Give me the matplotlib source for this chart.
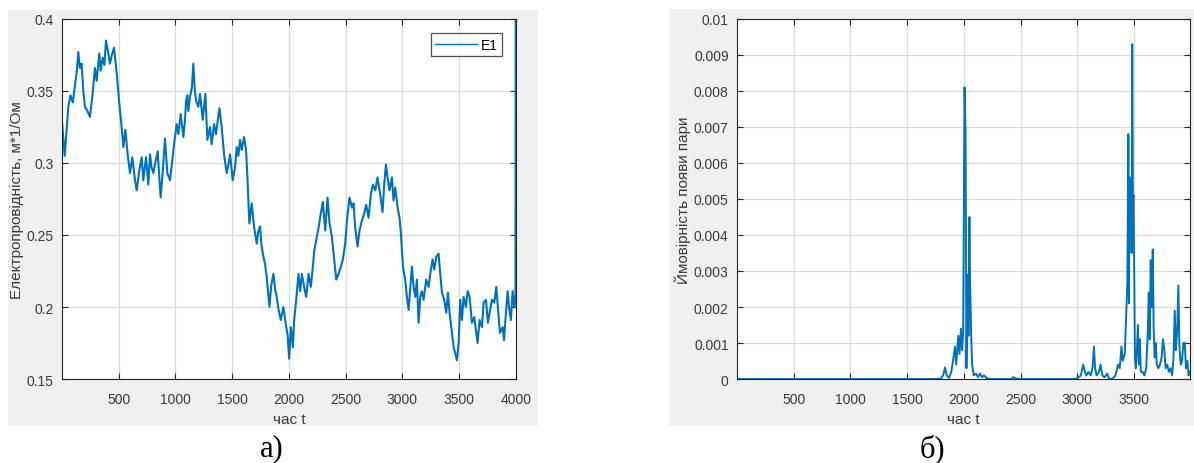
import matplotlib.pyplot as plt
from matplotlib.patches import Rectangle

# values
e1_t = [0, 24, 40, 56, 76, 95, 115, 130, 144, 158, 173, 188, 203, 225, 247, 260, 270, 291, 306,
        329, 341, 359, 374, 388, 409, 423, 440, 459, 482, 506, 526, 541, 559, 579, 600, 620,
        644, 659, 682, 703, 717, 741, 761, 776, 790, 806, 825, 844, 858, 870, 894, 908, 929,
        953, 976, 988, 1011, 1026, 1047, 1070, 1085, 1094, 1105, 1114, 1129, 1145, 1158, 1170,
        1182, 1202, 1217, 1241, 1264, 1282, 1305, 1320, 1341, 1358, 1375, 1388, 1408, 1429,
        1452, 1470, 1482, 1505, 1526, 1541, 1555, 1570, 1585, 1605, 1623, 1635, 1646, 1652,
        1673, 1693, 1717, 1730, 1746, 1760, 1776, 1790, 1805, 1829, 1845, 1864, 1880, 1893,
        1910, 1929, 1952, 1970, 1982, 1990, 2003, 2018, 2036, 2047, 2065, 2085, 2100, 2115,
        2135, 2153, 2174, 2194, 2212, 2224, 2241, 2262, 2282, 2300, 2321, 2341, 2359, 2379,
        2400, 2418, 2438, 2459, 2476, 2497, 2512, 2535, 2556, 2571, 2585, 2606, 2623, 2644,
        2665, 2682, 2703, 2723, 2741, 2762, 2782, 2806, 2826, 2841, 2856, 2870, 2888, 2909,
        2923, 2938, 2959, 2976, 2988, 3006, 3026, 3041, 3056, 3071, 3085, 3100, 3115, 3129,
        3144, 3159, 3173, 3188, 3211, 3232, 3247, 3267, 3282, 3300, 3320, 3335, 3350, 3370,
        3388, 3403, 3417, 3438, 3453, 3467, 3482, 3497, 3511, 3526, 3541, 3561, 3576, 3594,
        3614, 3635, 3653, 3664, 3682, 3703, 3717, 3738, 3755, 3770, 3791, 3811, 3829, 3847,
        3861, 3885, 3897, 3914, 3929, 3944, 3958, 3973, 3988, 3998, 4000]
e1_v = [0.329, 0.305, 0.322, 0.339, 0.347, 0.342, 0.354, 0.363, 0.377, 0.366, 0.369, 0.350, 0.339,
        0.336, 0.332, 0.341, 0.348, 0.366, 0.357, 0.376, 0.364, 0.373, 0.368, 0.385, 0.376,
        0.369, 0.375, 0.380, 0.363, 0.341, 0.325, 0.311, 0.323, 0.306, 0.293, 0.304, 0.288,
        0.281, 0.295, 0.304, 0.288, 0.304, 0.285, 0.306, 0.297, 0.293, 0.301, 0.308, 0.290,
        0.276, 0.300, 0.317, 0.293, 0.288, 0.304, 0.313, 0.327, 0.320, 0.334, 0.318, 0.330,
        0.343, 0.347, 0.336, 0.346, 0.352, 0.369, 0.352, 0.343, 0.339, 0.348, 0.330, 0.348,
        0.316, 0.325, 0.313, 0.327, 0.320, 0.330, 0.338, 0.325, 0.306, 0.293, 0.300, 0.306,
        0.288, 0.297, 0.311, 0.305, 0.316, 0.309, 0.318, 0.309, 0.290, 0.269, 0.258, 0.272,
        0.256, 0.244, 0.252, 0.256, 0.242, 0.235, 0.230, 0.221, 0.200, 0.215, 0.223, 0.212,
        0.207, 0.198, 0.191, 0.200, 0.190, 0.184, 0.180, 0.164, 0.186, 0.172, 0.191, 0.205,
        0.223, 0.211, 0.223, 0.214, 0.207, 0.223, 0.214, 0.228, 0.239, 0.246, 0.255, 0.265,
        0.273, 0.253, 0.276, 0.258, 0.249, 0.233, 0.219, 0.223, 0.228, 0.233, 0.244, 0.260,
        0.276, 0.269, 0.272, 0.255, 0.242, 0.253, 0.260, 0.265, 0.271, 0.262, 0.278, 0.285,
        0.281, 0.290, 0.278, 0.266, 0.285, 0.299, 0.290, 0.281, 0.290, 0.274, 0.283, 0.269,
        0.262, 0.251, 0.228, 0.219, 0.207, 0.198, 0.214, 0.228, 0.214, 0.207, 0.219, 0.189,
        0.207, 0.211, 0.205, 0.219, 0.214, 0.223, 0.233, 0.226, 0.235, 0.237, 0.223, 0.210,
        0.205, 0.196, 0.210, 0.196, 0.182, 0.172, 0.168, 0.163, 0.175, 0.205, 0.191, 0.207,
        0.200, 0.211, 0.207, 0.189, 0.193, 0.182, 0.175, 0.191, 0.186, 0.203, 0.205, 0.189,
        0.196, 0.205, 0.203, 0.214, 0.196, 0.182, 0.186, 0.177, 0.196, 0.211, 0.198, 0.191,
        0.211, 0.200, 0.205, 0.400]

p_t = [0, 1750, 1797, 1817, 1834, 1849, 1869, 1890, 1904, 1922, 1933, 1951, 1962, 1974, 1985,
       1994, 2006, 2015, 2023, 2032, 2041, 2049, 2055, 2064, 2073, 2087, 2108, 2125, 2142,
       2160, 2177, 2203, 2233, 2420, 2436, 2450, 2480, 2988, 3012, 3032, 3052, 3067, 3081,
       3099, 3119, 3134, 3148, 3157, 3171, 3192, 3206, 3221, 3241, 3265, 3279, 3308, 3337,
       3360, 3375, 3390, 3401, 3419, 3430, 3442, 3451, 3456, 3462, 3468, 3474, 3480, 3485,
       3491, 3497, 3503, 3509, 3517, 3526, 3535, 3544, 3552, 3561, 3576, 3593, 3608, 3622,
       3631, 3640, 3648, 3657, 3666, 3674, 3683, 3692, 3701, 3715, 3730, 3744, 3756, 3768,
       3779, 3794, 3808, 3823, 3837, 3849, 3860, 3869, 3881, 3892, 3901, 3913, 3924, 3936,
       3948, 3959, 3971, 3982, 3991]
p_v = [0.0, 0.0, 0.00001, 0.0001, 0.00032, 0.0001, 0.00003, 0.0002, 0.0005, 0.0009, 0.0004,
       0.0012, 0.0007, 0.0014, 0.0008, 0.0013, 0.0081, 0.0069, 0.0003, 0.0029, 0.0012, 0.0045,
       0.0027, 0.0013, 0.0004, 0.0001, 0.00015, 0.00005, 0.00015, 0.00005, 0.0001, 0.00002,
       0.0, 0.0, 0.00005, 0.00003, 0.0, 0.0, 0.00005, 0.0001, 0.0004, 0.0002, 0.0001, 0.0002,
       0.0001, 0.0003, 0.0009, 0.0003, 0.0001, 0.0002, 0.0004, 0.0001, 0.00005, 0.00015,
       0.00001, 0.0, 0.0001, 0.0004, 0.0003, 0.0009, 0.0005, 0.0007, 0.0016, 0.0027, 0.0068,
       0.0021, 0.0056, 0.0040, 0.0051, 0.0035, 0.0093, 0.0050, 0.0051, 0.0028, 0.0006,
       0.0003, 0.0008, 0.0015, 0.0004, 0.0011, 0.0002, 0.0002, 0.0001, 0.0003, 0.0013,
       0.0024, 0.0011, 0.0033, 0.0020, 0.0036, 0.0014, 0.0006, 0.0010, 0.0004, 0.0003,
       0.0004, 0.0006, 0.0011, 0.0008, 0.0003, 0.0004, 0.0002, 0.0003, 0.0001, 0.0006,
       0.0019, 0.0008, 0.0013, 0.0026, 0.0009, 0.0004, 0.0005, 0.0010, 0.0010, 0.0003,
       0.0005, 0.0001, 0.0002]

left_xticks = [500, 1000, 1500, 2000, 2500, 3000, 3500, 4000]
right_xticks = [500, 1000, 1500, 2000, 2500, 3000, 3500]
left_yticks = [0.15, 0.2, 0.25, 0.3, 0.35, 0.4]
left_ylabels = ['0.15', '0.2', '0.25', '0.3', '0.35', '0.4']
right_yticks = [i / 1000 for i in range(11)]
right_ylabels = ['0'] + ['0.%03d' % i for i in range(1, 10)] + ['0.01']

blue = '#0072BD'
dark = '#262626'
panel = '#F0F0F0'

plt.rcParams['font.family'] = ['Liberation Sans', 'DejaVu Sans']

fig = plt.figure(figsize=(11.94, 4.64), dpi=100)
fig.patch.set_facecolor('white')

# grey MATLAB figure panels behind each plot
fig.patches.append(Rectangle((0.0064, 0.0797), 0.444, 0.897, transform=fig.transFigure,
                             facecolor=panel, edgecolor='none', zorder=-10))
fig.patches.append(Rectangle((0.56, 0.0797), 0.45, 0.899, transform=fig.transFigure,
                             facecolor=panel, edgecolor='none', zorder=-10))

ax1 = fig.add_axes([0.0519, 0.181, 0.380, 0.776])
ax2 = fig.add_axes([0.6173, 0.181, 0.3794, 0.776])


def style(ax):
    ax.set_facecolor('white')
    ax.grid(True, color='#DADADA', linewidth=0.8)
    ax.set_axisbelow(True)
    for s in ax.spines.values():
        s.set_color(dark)
        s.set_linewidth(0.8)
    ax.tick_params(direction='in', length=4, width=0.8, colors=dark, labelcolor='#3A3A3A',
                   labelsize=10, top=True, right=True, pad=6)
    ax.tick_params(axis='x', pad=9)


ax1.plot(e1_t, e1_v, color=blue, linewidth=1.5, label='E1')
ax1.set_xlim(0, 4000)
ax1.set_ylim(0.15, 0.4)
ax1.set_xticks(left_xticks)
ax1.set_yticks(left_yticks)
ax1.set_yticklabels(left_ylabels)
style(ax1)
ax1.set_xlabel('час t', fontsize=11, color='#3A3A3A', labelpad=5)
ax1.set_ylabel('Електропровідність, м*1/Ом', fontsize=11, color='#3A3A3A', labelpad=2)
leg = ax1.legend(loc='upper right', bbox_to_anchor=(0.97, 0.96), fontsize=10, frameon=True,
                 fancybox=False, handlelength=3.0, borderpad=0.3, handletextpad=0.3,
                 borderaxespad=0)
leg.get_frame().set_edgecolor(dark)
leg.get_frame().set_linewidth(0.9)
leg.get_lines()[0].set_linewidth(1.0)

ax2.plot(p_t, p_v, color=blue, linewidth=1.4)
ax2.set_xlim(0, 3995)
ax2.set_ylim(0, 0.01)
ax2.set_xticks(right_xticks)
ax2.set_yticks(right_yticks)
ax2.set_yticklabels(right_ylabels)
style(ax2)
ax2.set_xlabel('час t', fontsize=11, color='#3A3A3A', labelpad=5)
ax2.set_ylabel('Ймовірність появи пари', fontsize=11, color='#3A3A3A', labelpad=2)

fig.text(0.228, 0.032, 'а)', fontsize=22, family='Liberation Serif', ha='center', va='center')
fig.text(0.781, 0.032, 'б)', fontsize=22, family='Liberation Serif', ha='center', va='center')

fig.savefig('out.png', dpi=100)
